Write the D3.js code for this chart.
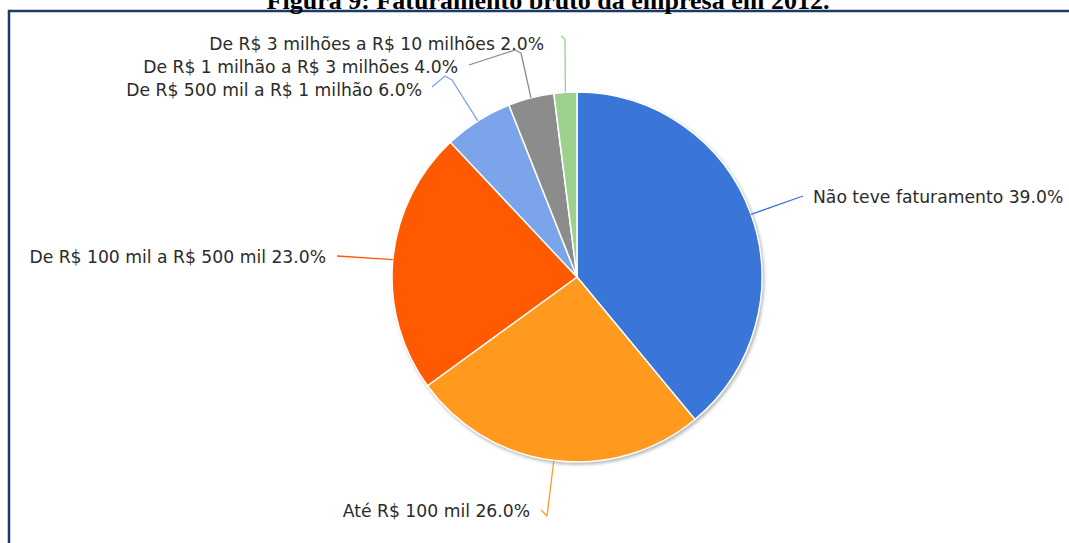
<!DOCTYPE html>
<html>
<head>
<meta charset="utf-8">
<script src="https://cdn.jsdelivr.net/npm/d3@7"></script>
<style>
  body { margin: 0; background: #fff; }
  svg { display: block; }
</style>
</head>
<body>
<div id="chart"></div>
<script>
// slices, clockwise from 12 o'clock
const categories = [
  "Não teve faturamento",
  "Até R$ 100 mil",
  "De R$ 100 mil a R$ 500 mil",
  "De R$ 500 mil a R$ 1 milhão",
  "De R$ 1 milhão a R$ 3 milhões",
  "De R$ 3 milhões a R$ 10 milhões"
];
const percents = [39.0, 26.0, 23.0, 6.0, 4.0, 2.0];
const colors = ["#3a76d8", "#ff9a1f", "#ff5a00", "#7ba4ea", "#8c8c8c", "#9bd18d"];

const width = 1069;
const height = 543;
const cx = 577, cy = 277, r = 185;

// label placement (text anchor point + elbow points of the leader line)
const labelLayout = [
  { x: 813, y: 197, anchor: "start", elbow: [[803, 196]] },
  { x: 530, y: 511, anchor: "end", elbow: [[547, 516], [541, 510]] },
  { x: 326, y: 257, anchor: "end", elbow: [[337, 256]] },
  { x: 422, y: 90, anchor: "end", elbow: [[452, 80], [445, 76], [432, 87]] },
  { x: 458, y: 67, anchor: "end", elbow: [[521, 53], [515, 50], [469, 65]] },
  { x: 544, y: 44, anchor: "end", elbow: [[565, 39], [561, 36]] }
];

const svg = d3.select("#chart")
  .append("svg")
  .attr("width", width)
  .attr("height", height);

// frame
svg.append("rect")
  .attr("x", 9)
  .attr("y", 11)
  .attr("width", width + 20)
  .attr("height", height + 20)
  .attr("fill", "none")
  .attr("stroke", "#1b3a66")
  .attr("stroke-width", 2.5);

// title (cut off by the top edge in the reference)
svg.append("text")
  .attr("x", 548)
  .attr("y", 9)
  .attr("text-anchor", "middle")
  .style("font-family", "'Liberation Serif', 'Times New Roman', serif")
  .style("font-weight", "bold")
  .style("font-size", "26px")
  .text("Figura 9: Faturamento bruto da empresa em 2012.");

const defs = svg.append("defs");
defs.append("filter")
  .attr("id", "shadow")
  .attr("x", "-20%").attr("y", "-20%")
  .attr("width", "140%").attr("height", "140%")
  .append("feGaussianBlur")
  .attr("stdDeviation", 1.5);

const data = categories.map((c, i) => ({ name: c, value: percents[i], color: colors[i], layout: labelLayout[i] }));

const pie = d3.pie()
  .sort(null)
  .value(d => d.value);

const arcs = pie(data);

const arc = d3.arc()
  .innerRadius(0)
  .outerRadius(r);

const edge = d3.arc()
  .innerRadius(r)
  .outerRadius(r);

const g = svg.append("g")
  .attr("transform", `translate(${cx}, ${cy})`);

// soft shadow under the pie
g.append("circle")
  .attr("cx", 1.5)
  .attr("cy", 2)
  .attr("r", r + 1)
  .attr("fill", "#bdbdbd")
  .attr("filter", "url(#shadow)");

g.selectAll("path.slice")
  .data(arcs)
  .join("path")
  .attr("class", "slice")
  .attr("d", arc)
  .attr("fill", d => d.data.color)
  .attr("stroke", "#fff")
  .attr("stroke-width", 1.5);

// leader lines
const line = d3.line();
svg.selectAll("path.leader")
  .data(arcs)
  .join("path")
  .attr("class", "leader")
  .attr("d", d => {
    const [ex, ey] = edge.centroid(d);
    return line([[cx + ex, cy + ey], ...d.data.layout.elbow]);
  })
  .attr("fill", "none")
  .attr("stroke", d => d.data.color)
  .attr("stroke-width", 1.3)
  .attr("stroke-linejoin", "round");

svg.selectAll("text.label")
  .data(arcs)
  .join("text")
  .attr("class", "label")
  .attr("x", d => d.data.layout.x)
  .attr("y", d => d.data.layout.y)
  .attr("dy", "0.35em")
  .attr("text-anchor", d => d.data.layout.anchor)
  .style("font-family", "'DejaVu Sans', Verdana, sans-serif")
  .style("font-size", "17.2px")
  .style("fill", "#2b2b2b")
  .text(d => `${d.data.name} ${d.data.value.toFixed(1)}%`);
</script>
</body>
</html>
